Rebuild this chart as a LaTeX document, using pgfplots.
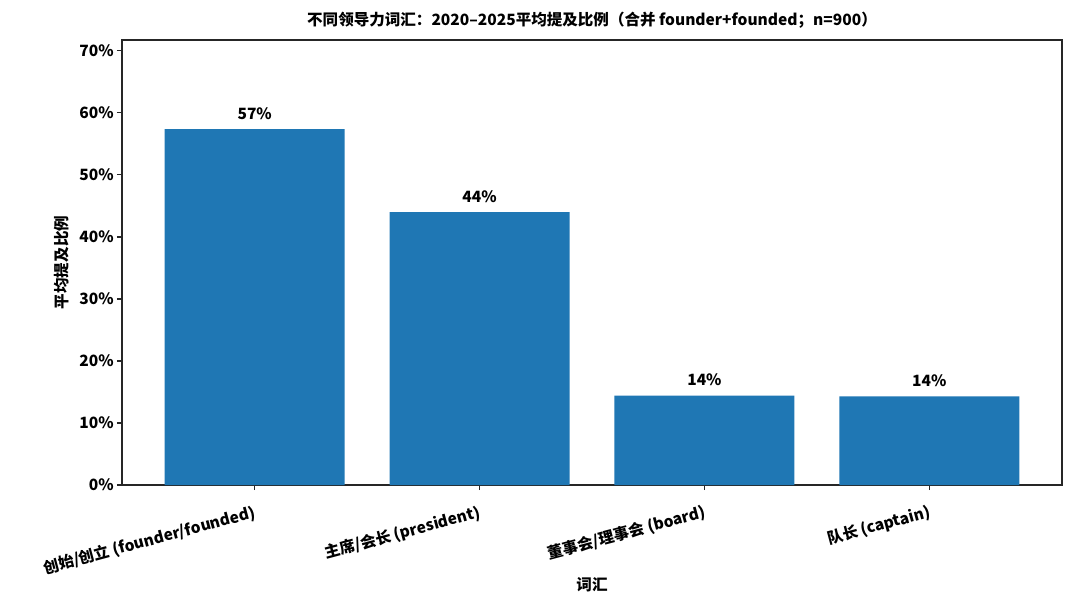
\documentclass[border=0pt]{standalone}
\usepackage{fontspec}
\setmainfont{Noto Sans CJK SC}
\usepackage{pgfplots}
\pgfplotsset{compat=1.18}
\definecolor{mplblue}{HTML}{1F77B4}
\definecolor{axisgray}{HTML}{262626}
\begin{document}
\fontsize{7.8}{9.4}\selectfont\bfseries
\begin{tikzpicture}
\begin{axis}[
  scale only axis,
  width=470bp, height=222.5bp,
  at={(0,0)}, anchor=south west,
  xmin=-0.59, xmax=3.59,
  ymin=0, ymax=71.75,
  ytick={0,10,20,30,40,50,60,70},
  yticklabel={\pgfmathprintnumber{\tick}\%},
  /pgf/number format/assume math mode=true,
  xtick={0,1,2,3},
  xticklabels={创始/创立 (founder/founded), 主席/会长 (president), 董事会/理事会 (board), 队长 (captain)},
  xticklabel style={rotate=15, anchor=north east, inner sep=1bp, yshift=-5.5bp, xshift=-1.5bp},
  yticklabel style={inner sep=1.5bp},
  tick align=outside,
  tick pos=left,
  major tick length=2.5bp,
  tick style={axisgray, line width=0.6bp},
  axis line style={axisgray, line width=0.6bp},
  ybar,
  bar width=0.8,
  bar shift=0pt,
  title={不同领导力词汇：2020–2025平均提及比例（合并 founder+founded；n=900）},
  title style={at={(0.5,1)}, anchor=south, yshift=-3bp},
  xlabel={词汇},
  ylabel={平均提及比例},
  xlabel style={at={(0.5,0)}, anchor=center, yshift=-50bp},
  ylabel style={at={(0,0.5)}, anchor=center, yshift=30bp},
  nodes near coords={\pgfmathprintnumber[fixed,precision=0]{\pgfplotspointmeta}\%},
  nodes near coords style={anchor=south, yshift=2bp},
  clip=false,
]
\addplot[fill=mplblue, draw=none] coordinates {(0,57.4) (1,44.0) (2,14.4) (3,14.3)};
\end{axis}
\path[use as bounding box] (-61bp,-64bp) rectangle (479bp,242.5bp);
\end{tikzpicture}
\end{document}
